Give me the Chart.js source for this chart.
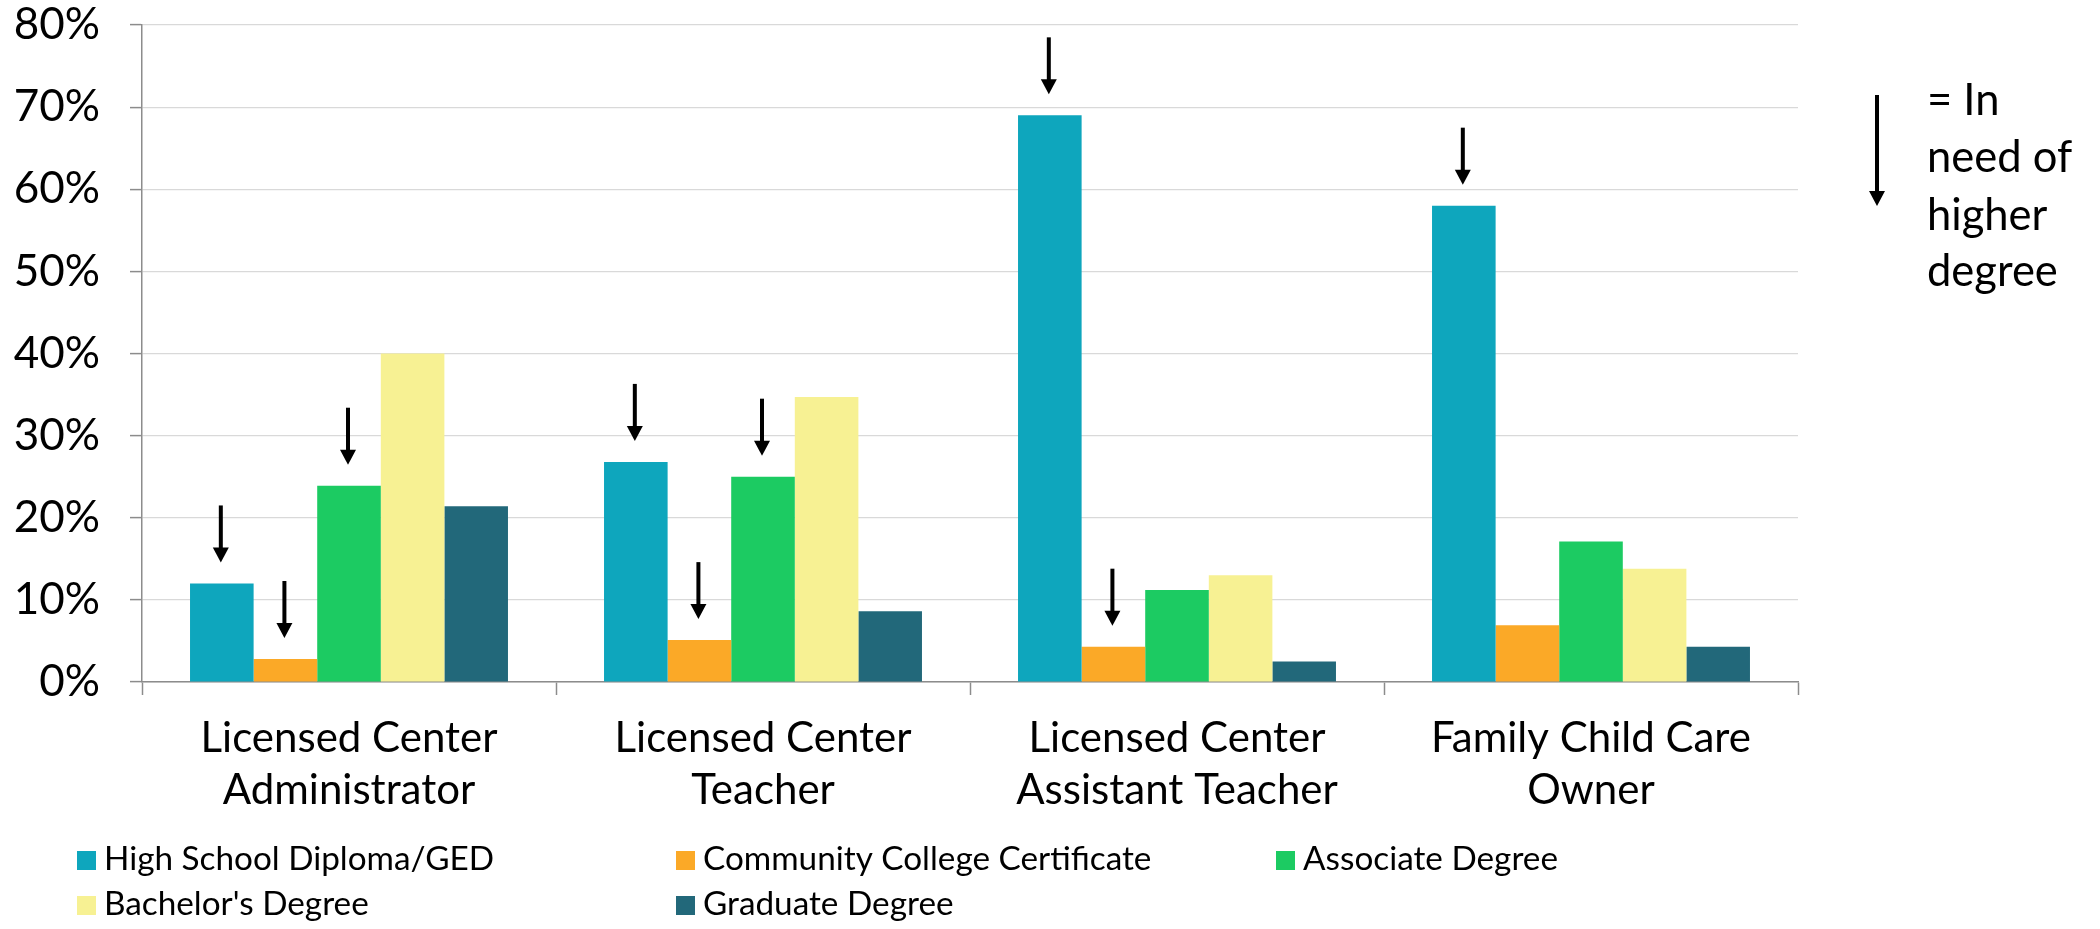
<!DOCTYPE html>
<html>
<head>
<meta charset="utf-8">
<script src="https://cdn.jsdelivr.net/npm/chart.js@4.4.1/dist/chart.umd.min.js"></script>
<style>
  html, body { margin: 0; padding: 0; background: #ffffff; }
  #wrap { width: 2100px; height: 929px; position: relative; }
</style>
</head>
<body>
<div id="wrap"><canvas id="c" width="2100" height="929"></canvas></div>
<script>
// ---------- DATA ----------
const categories = [
  ["Licensed Center", "Administrator"],
  ["Licensed Center", "Teacher"],
  ["Licensed Center", "Assistant Teacher"],
  ["Family Child Care", "Owner"]
];
const seriesNames = [
  "High School Diploma/GED",
  "Community College Certificate",
  "Associate Degree",
  "Bachelor's Degree",
  "Graduate Degree"
];
const highSchool = [12.0, 26.8, 69.0, 58.0];
const ccCertificate = [2.8, 5.1, 4.3, 6.9];
const associate = [23.9, 25.0, 11.2, 17.1];
const bachelor = [40.0, 34.7, 13.0, 13.8];
const graduate = [21.4, 8.6, 2.5, 4.3];
// bars marked "in need of higher degree"
const needHigherHighSchool = [true, true, true, true];
const needHigherCC = [true, true, true, false];
const needHigherAssociate = [true, true, false, false];
const needHigherBachelor = [false, false, false, false];
const needHigherGraduate = [false, false, false, false];
const yTickValues = [0, 10, 20, 30, 40, 50, 60, 70, 80];
const noteLines = ["= In", "need of", "higher", "degree"];

// ---------- STYLE ----------
const colors = ["#0EA6BD", "#FBA927", "#1CCB62", "#F7F193", "#22687A"];
const FONT = "Lato, 'Open Sans', sans-serif";
const seriesValues = [highSchool, ccCertificate, associate, bachelor, graduate];
const seriesFlags = [needHigherHighSchool, needHigherCC, needHigherAssociate, needHigherBachelor, needHigherGraduate];

function drawArrow(ctx, x, yTop, yTip, shaftW, headW, headL) {
  ctx.save();
  ctx.fillStyle = "#000";
  ctx.strokeStyle = "#000";
  ctx.lineWidth = shaftW;
  ctx.beginPath();
  ctx.moveTo(x, yTop);
  ctx.lineTo(x, yTip - headL + 1);
  ctx.stroke();
  ctx.beginPath();
  ctx.moveTo(x - headW / 2, yTip - headL);
  ctx.lineTo(x + headW / 2, yTip - headL);
  ctx.lineTo(x, yTip);
  ctx.closePath();
  ctx.fill();
  ctx.restore();
}

const arrowsPlugin = {
  id: "needArrows",
  afterDatasetsDraw(chart) {
    const ctx = chart.ctx;
    seriesFlags.forEach((flags, di) => {
      const meta = chart.getDatasetMeta(di);
      flags.forEach((f, i) => {
        if (!f) return;
        const el = meta.data[i];
        const tip = el.y - 21;
        drawArrow(ctx, el.x - 1, tip - 57, tip, 4, 16, 15);
      });
    });
    // note on the right
    drawArrow(ctx, 1877, 95, 206, 4, 16, 15);
    ctx.save();
    ctx.fillStyle = "#000";
    ctx.font = "43.5px " + FONT;
    ctx.textAlign = "left";
    ctx.textBaseline = "alphabetic";
    const baselines = [115, 172, 230, 286];
    noteLines.forEach((t, k) => ctx.fillText(t, 1927, baselines[k]));
    ctx.restore();
  }
};

const legendPlugin = {
  id: "gridLegend",
  afterDraw(chart) {
    const ctx = chart.ctx;
    const colX = [77, 676, 1276];
    const rowBase = [870, 915];
    ctx.save();
    ctx.font = "33.3px " + FONT;
    ctx.textAlign = "left";
    ctx.textBaseline = "alphabetic";
    chart.data.datasets.forEach((ds, i) => {
      const col = i % 3, row = Math.floor(i / 3);
      const x = colX[col], b = rowBase[row];
      ctx.fillStyle = ds.backgroundColor;
      ctx.fillRect(x, b - 19, 19, 19);
      ctx.fillStyle = "#000";
      ctx.fillText(ds.label, x + 27, b);
    });
    ctx.restore();
  }
};

new Chart(document.getElementById("c"), {
  type: "bar",
  data: {
    labels: categories,
    datasets: seriesNames.map((name, i) => ({
      label: name,
      data: seriesValues[i],
      backgroundColor: colors[i],
      borderWidth: 0,
      categoryPercentage: 0.768,
      barPercentage: 1.0
    }))
  },
  options: {
    responsive: false,
    devicePixelRatio: 1,
    animation: false,
    layout: { padding: { top: 25, right: 302, left: 0, bottom: 0 } },
    plugins: { legend: { display: false }, tooltip: { enabled: false }, title: { display: false } },
    scales: {
      x: {
        offset: true,
        grid: { display: true, drawOnChartArea: false, drawTicks: true, tickLength: 13, tickColor: "#8C8C8C", offset: true, tickWidth: 1.5 },
        border: { display: true, color: "#8C8C8C", width: 1.5 },
        ticks: { color: "#000", font: { family: FONT, size: 42, lineHeight: 1.24 }, padding: 17, maxRotation: 0, autoSkip: false },
        afterFit(scale) { scale.height = 247; scale.paddingLeft = 0; scale.paddingRight = 0; }
      },
      y: {
        min: 0, max: 80,
        afterBuildTicks(scale) { scale.ticks = yTickValues.map(v => ({ value: v })); },
        grid: { color: "#D9D9D9", lineWidth: 1.2, tickColor: "#8C8C8C", tickLength: 12, tickWidth: 1.5 },
        border: { display: true, color: "#8C8C8C", width: 1.5 },
        ticks: { color: "#000", font: { family: FONT, size: 44 }, padding: 30, callback: v => v + "%" },
        afterFit(scale) { scale.width = 142; scale.paddingTop = 0; scale.paddingBottom = 0; }
      }
    }
  },
  plugins: [arrowsPlugin, legendPlugin]
});
</script>
</body>
</html>
